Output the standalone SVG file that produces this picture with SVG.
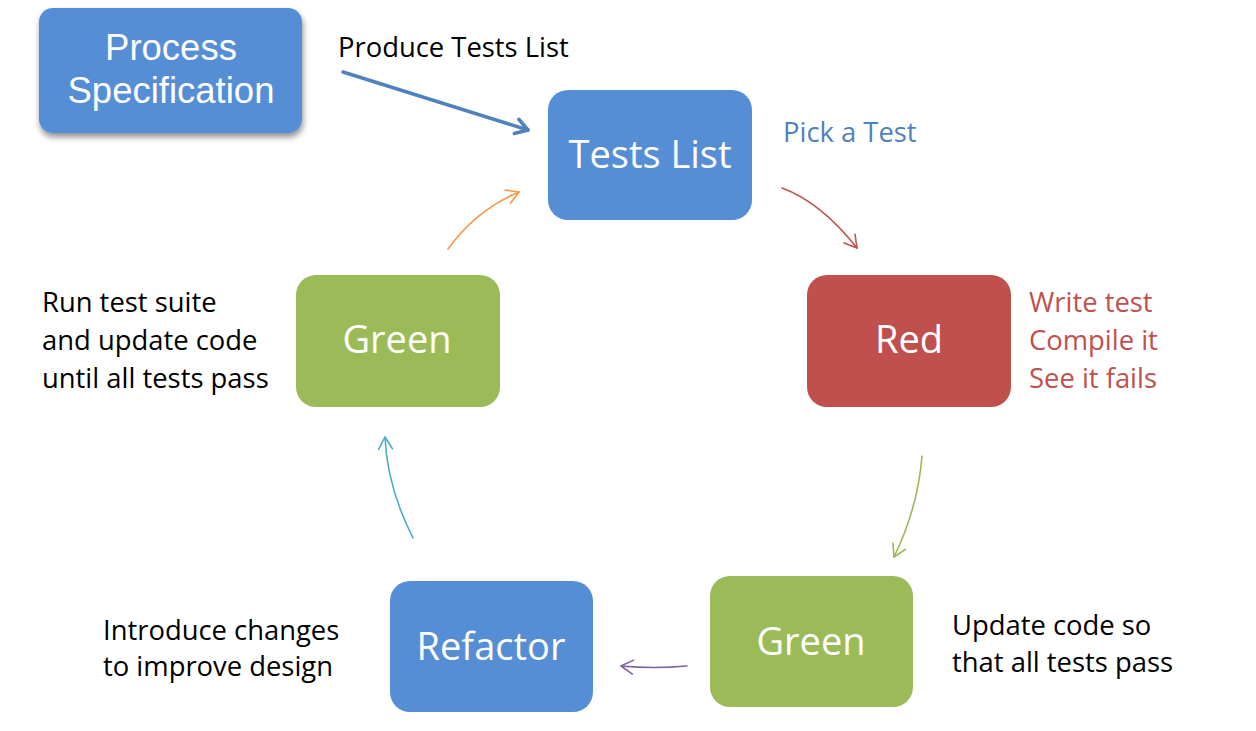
<svg xmlns="http://www.w3.org/2000/svg" width="1256" height="731" viewBox="0 0 1256 731">
  <style>
    .box-text { font-family: "Open Sans", "Liberation Sans", sans-serif; font-size: 38px; fill: #ffffff; text-anchor: middle; }
    .spec-text { font-family: "Liberation Sans", Arial, sans-serif; font-size: 36.5px; fill: #ffffff; text-anchor: middle; }
    .label { font-family: "Open Sans", "Liberation Sans", sans-serif; font-size: 27.4px; fill: #000000; }
    .blue { fill: #558ED5; }
    .red { fill: #C0504D; }
    .green { fill: #9BBB59; }
    .conn { fill: none; stroke-linecap: round; }
  </style>
  <defs>
    <filter id="shadow" x="-20%" y="-20%" width="140%" height="150%">
      <feGaussianBlur in="SourceAlpha" stdDeviation="3"/>
      <feOffset dx="1" dy="4" result="b"/>
      <feComponentTransfer><feFuncA type="linear" slope="0.45"/></feComponentTransfer>
      <feMerge><feMergeNode/><feMergeNode in="SourceGraphic"/></feMerge>
    </filter>
    <marker id="mBlue" markerUnits="userSpaceOnUse" viewBox="-16 -10 20 20" refX="0" refY="0" markerWidth="20" markerHeight="20" orient="auto">
      <path d="M -12,-7.5 L 0,0 L -12,7.5" fill="none" stroke="#4F81BD" stroke-width="3.5" stroke-linecap="round" stroke-linejoin="round"/>
    </marker>
    <marker id="mRed" markerUnits="userSpaceOnUse" viewBox="-16 -10 20 20" refX="0" refY="0" markerWidth="20" markerHeight="20" orient="auto">
      <path d="M -12,-7 L 0,0 L -12,7" fill="none" stroke="#C0504D" stroke-width="1.6" stroke-linecap="round" stroke-linejoin="round"/>
    </marker>
    <marker id="mGreen" markerUnits="userSpaceOnUse" viewBox="-16 -10 20 20" refX="0" refY="0" markerWidth="20" markerHeight="20" orient="auto">
      <path d="M -12,-7 L 0,0 L -12,7" fill="none" stroke="#9BBB59" stroke-width="1.6" stroke-linecap="round" stroke-linejoin="round"/>
    </marker>
    <marker id="mPurple" markerUnits="userSpaceOnUse" viewBox="-16 -10 20 20" refX="0" refY="0" markerWidth="20" markerHeight="20" orient="auto">
      <path d="M -12,-7 L 0,0 L -12,7" fill="none" stroke="#8064A2" stroke-width="1.6" stroke-linecap="round" stroke-linejoin="round"/>
    </marker>
    <marker id="mCyan" markerUnits="userSpaceOnUse" viewBox="-16 -10 20 20" refX="0" refY="0" markerWidth="20" markerHeight="20" orient="auto">
      <path d="M -12,-7 L 0,0 L -12,7" fill="none" stroke="#4BACC6" stroke-width="1.6" stroke-linecap="round" stroke-linejoin="round"/>
    </marker>
    <marker id="mOrange" markerUnits="userSpaceOnUse" viewBox="-16 -10 20 20" refX="0" refY="0" markerWidth="20" markerHeight="20" orient="auto">
      <path d="M -12,-7 L 0,0 L -12,7" fill="none" stroke="#F79646" stroke-width="1.6" stroke-linecap="round" stroke-linejoin="round"/>
    </marker>
  </defs>

  <rect width="1256" height="731" fill="#ffffff"/>

  <g id="process-spec">
    <rect class="blue" x="39" y="8" width="263" height="125" rx="14" filter="url(#shadow)"/>
    <text class="spec-text" x="171" y="60">Process</text>
    <text class="spec-text" x="171" y="103">Specification</text>
  </g>

  <g id="tests-list">
    <rect class="blue" x="548" y="90" width="204" height="130" rx="20"/>
    <text class="box-text" x="650" y="168">Tests List</text>
  </g>

  <g id="red">
    <rect class="red" x="807" y="275" width="204" height="132" rx="20"/>
    <text class="box-text" x="909" y="353">Red</text>
  </g>

  <g id="green-right">
    <rect class="green" x="710" y="576" width="203" height="131" rx="20"/>
    <text class="box-text" x="811" y="655">Green</text>
  </g>

  <g id="refactor">
    <rect class="blue" x="390" y="581" width="203" height="131" rx="20"/>
    <text class="box-text" x="491" y="660">Refactor</text>
  </g>

  <g id="green-left">
    <rect class="green" x="296" y="275" width="204" height="132" rx="20"/>
    <text class="box-text" x="397" y="353">Green</text>
  </g>

  <g id="labels">
    <text class="label" x="338" y="57">Produce Tests List</text>
    <text class="label" x="783" y="142" style="fill:#4F81BD">Pick a Test</text>
    <text class="label" x="1029" y="312" style="fill:#C0504D">Write test</text>
    <text class="label" x="1029" y="350" style="fill:#C0504D">Compile it</text>
    <text class="label" x="1029" y="388" style="fill:#C0504D">See it fails</text>
    <text class="label" x="42" y="312">Run test suite</text>
    <text class="label" x="42" y="350">and update code</text>
    <text class="label" x="42" y="388">until all tests pass</text>
    <text class="label" x="952" y="635">Update code so</text>
    <text class="label" x="952" y="672">that all tests pass</text>
    <text class="label" x="103" y="640">Introduce changes</text>
    <text class="label" x="103" y="676">to improve design</text>
  </g>

  <g id="connectors">
    <path class="conn" d="M 343,72 L 528,130" stroke="#4F81BD" stroke-width="3.5" marker-end="url(#mBlue)"/>
    <path class="conn" d="M 782,188 Q 820.5,202 857,248" stroke="#C0504D" stroke-width="1.6" marker-end="url(#mRed)"/>
    <path class="conn" d="M 922,456 Q 918,507.5 894,557" stroke="#9BBB59" stroke-width="1.6" marker-end="url(#mGreen)"/>
    <path class="conn" d="M 687,666 Q 654,669 621,666" stroke="#8064A2" stroke-width="1.6" marker-end="url(#mPurple)"/>
    <path class="conn" d="M 413,538 Q 387,486.5 385,437" stroke="#4BACC6" stroke-width="1.6" marker-end="url(#mCyan)"/>
    <path class="conn" d="M 448,249 Q 476.5,209.5 519,192" stroke="#F79646" stroke-width="1.6" marker-end="url(#mOrange)"/>
  </g>
</svg>
